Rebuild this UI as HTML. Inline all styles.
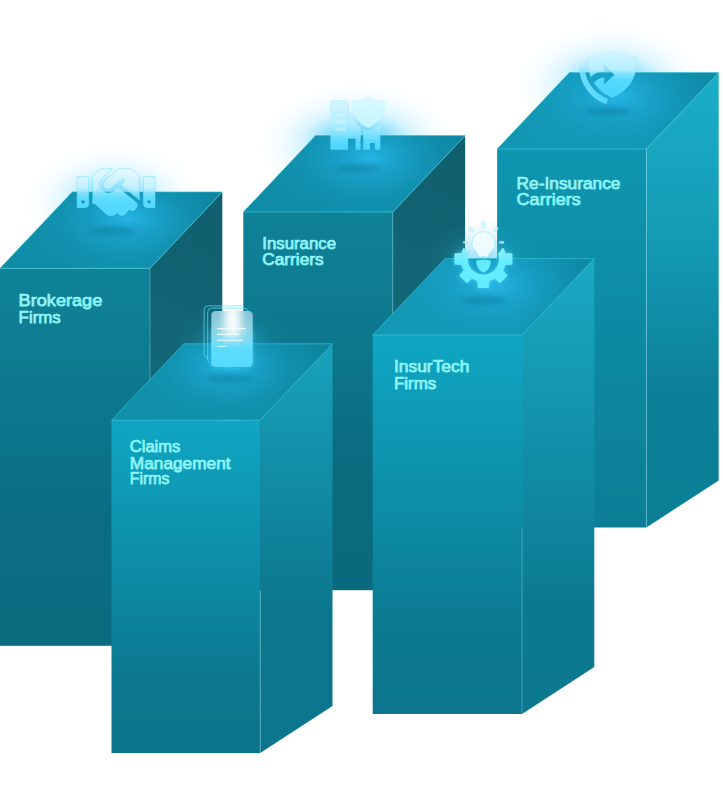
<!DOCTYPE html>
<html lang="en"><head><meta charset="utf-8"><title>Insurance segments</title>
<style>
html,body{margin:0;padding:0;background:#fff;}
body{width:723px;height:800px;overflow:hidden;}
svg{display:block;}
text{font-family:"Liberation Sans",sans-serif;font-weight:normal;fill:#8ff4f6;stroke:#8ff4f6;stroke-width:.75px;stroke-linejoin:round;}
</style></head><body>
<svg width="723" height="800" viewBox="0 0 723 800">

<defs>
<linearGradient id="fB" x1="0" y1="0" x2="0" y2="1"><stop offset="0" stop-color="#0f8399"/><stop offset=".68" stop-color="#0a6d82"/><stop offset="1" stop-color="#0a6b7f"/></linearGradient>
<linearGradient id="fI" x1="0" y1="0" x2="0" y2="1"><stop offset="0" stop-color="#0f8298"/><stop offset=".35" stop-color="#0d778c"/><stop offset=".68" stop-color="#0a6b7f"/><stop offset="1" stop-color="#0a697d"/></linearGradient>
<linearGradient id="fR" x1="0" y1="0" x2="0" y2="1"><stop offset="0" stop-color="#0f95b0"/><stop offset="1" stop-color="#0b7e95"/></linearGradient>
<linearGradient id="fC" x1="0" y1="0" x2="0" y2="1"><stop offset="0" stop-color="#0fa6c3"/><stop offset=".8" stop-color="#0b778e"/><stop offset="1" stop-color="#0b748b"/></linearGradient>
<linearGradient id="fT" x1="0" y1="0" x2="0" y2="1"><stop offset="0" stop-color="#0fa6c3"/><stop offset=".78" stop-color="#0b7a91"/><stop offset="1" stop-color="#0b768d"/></linearGradient>
<linearGradient id="sB" gradientUnits="userSpaceOnUse" x1="222" y1="195" x2="150" y2="385"><stop offset="0" stop-color="#0f5e6d"/><stop offset="1" stop-color="#136979"/></linearGradient>
<linearGradient id="sI" gradientUnits="userSpaceOnUse" x1="465" y1="140" x2="393" y2="330"><stop offset="0" stop-color="#0f5e6d"/><stop offset="1" stop-color="#136979"/></linearGradient>
<linearGradient id="sR" x1="0" y1="0" x2="0" y2="1"><stop offset="0" stop-color="#1baec9"/><stop offset=".35" stop-color="#149cb6"/><stop offset=".7" stop-color="#0c8098"/><stop offset="1" stop-color="#0b7f96"/></linearGradient>
<linearGradient id="sC" x1="0" y1="0" x2="0" y2="1"><stop offset="0" stop-color="#18a2bd"/><stop offset=".65" stop-color="#0b778e"/><stop offset="1" stop-color="#0b768d"/></linearGradient>
<linearGradient id="sT" x1="0" y1="0" x2="0" y2="1"><stop offset="0" stop-color="#1aa9c4"/><stop offset=".76" stop-color="#0b7a91"/><stop offset="1" stop-color="#0b788f"/></linearGradient>
<radialGradient id="topglow"><stop offset="0" stop-color="#25b4e4" stop-opacity="1"/><stop offset=".3" stop-color="#1fabd9" stop-opacity=".62"/><stop offset=".65" stop-color="#1ba3cd" stop-opacity=".22"/><stop offset="1" stop-color="#1aa2cc" stop-opacity="0"/></radialGradient>
<radialGradient id="airglow"><stop offset="0" stop-color="#4ccbfa" stop-opacity=".8"/><stop offset=".3" stop-color="#5fd3fc" stop-opacity=".6"/><stop offset=".55" stop-color="#7bdcfd" stop-opacity=".32"/><stop offset=".8" stop-color="#9be5ff" stop-opacity=".1"/><stop offset="1" stop-color="#bff0ff" stop-opacity="0"/></radialGradient>
<radialGradient id="airglow3"><stop offset="0" stop-color="#45c6f8" stop-opacity=".6"/><stop offset=".5" stop-color="#55cdfa" stop-opacity=".3"/><stop offset="1" stop-color="#6fd8fd" stop-opacity="0"/></radialGradient>
<radialGradient id="airglow2"><stop offset="0" stop-color="#3cc6f5" stop-opacity=".6"/><stop offset=".35" stop-color="#35bdea" stop-opacity=".28"/><stop offset=".7" stop-color="#2fb4e0" stop-opacity=".07"/><stop offset="1" stop-color="#2fb4e0" stop-opacity="0"/></radialGradient>
<filter id="blur3" x="-50%" y="-200%" width="200%" height="500%"><feGaussianBlur stdDeviation="4.5 2.8"/></filter>
<linearGradient id="ig" x1="0" y1="0" x2="0" y2="1"><stop offset="0" stop-color="#eafaff" stop-opacity=".75"/><stop offset=".45" stop-color="#bff0ff" stop-opacity=".85"/><stop offset=".7" stop-color="#55dbff"/><stop offset="1" stop-color="#4fd8ff"/></linearGradient>
</defs>

<defs>
<linearGradient id="igB" gradientUnits="userSpaceOnUse" x1="0" y1="64" x2="0" y2="450"><stop offset="0" stop-color="#eafaff" stop-opacity=".7"/><stop offset=".4" stop-color="#c4f1ff" stop-opacity=".85"/><stop offset=".62" stop-color="#5cdcff"/><stop offset="1" stop-color="#4fd8ff"/></linearGradient>
</defs><defs>
<linearGradient id="igI" gradientUnits="userSpaceOnUse" x1="0" y1="98" x2="0" y2="150"><stop offset="0" stop-color="#d4f5ff" stop-opacity=".9"/><stop offset=".5" stop-color="#b4eeff" stop-opacity=".93"/><stop offset=".7" stop-color="#7fe2ff" stop-opacity=".97"/><stop offset=".82" stop-color="#5cdaff"/><stop offset="1" stop-color="#4cd4fb"/></linearGradient>
<linearGradient id="igS" gradientUnits="userSpaceOnUse" x1="0" y1="96" x2="0" y2="128"><stop offset="0" stop-color="#dcf9ff" stop-opacity=".95"/><stop offset="1" stop-color="#c2f6ff" stop-opacity=".97"/></linearGradient>
<linearGradient id="igR" gradientUnits="userSpaceOnUse" x1="0" y1="50" x2="0" y2="98"><stop offset="0" stop-color="#d2f5ff" stop-opacity=".92"/><stop offset=".4" stop-color="#b9f0ff" stop-opacity=".95"/><stop offset=".52" stop-color="#74e0ff"/><stop offset=".62" stop-color="#55d9ff"/><stop offset="1" stop-color="#4ad2fa"/></linearGradient>
<linearGradient id="igR2" gradientUnits="userSpaceOnUse" x1="0" y1="64" x2="0" y2="102"><stop offset="0" stop-color="#c9f3ff" stop-opacity=".9"/><stop offset=".25" stop-color="#6edfff"/><stop offset="1" stop-color="#55d8fd"/></linearGradient>
<linearGradient id="igC" gradientUnits="userSpaceOnUse" x1="0" y1="311" x2="0" y2="367"><stop offset="0" stop-color="#84c2d3"/><stop offset=".3" stop-color="#8dd0e3"/><stop offset=".55" stop-color="#7bdcf6"/><stop offset=".66" stop-color="#5fdcfc"/><stop offset="1" stop-color="#54dafe"/></linearGradient>
<filter id="bloom" x="-30%" y="-30%" width="160%" height="160%"><feGaussianBlur stdDeviation="2.6"/></filter>
<filter id="blurC" x="-100%" y="-50%" width="300%" height="200%"><feGaussianBlur stdDeviation="4.5 6"/></filter>
<linearGradient id="igT" gradientUnits="userSpaceOnUse" x1="0" y1="240" x2="0" y2="262"><stop offset="0" stop-color="#b9f4ff" stop-opacity=".85"/><stop offset="1" stop-color="#66ecff"/></linearGradient>
</defs>
<ellipse cx="114.0" cy="203.0" rx="90" ry="58" fill="url(#airglow)" opacity="0.8"/><ellipse cx="116.0" cy="193.0" rx="52" ry="20" fill="url(#airglow3)" opacity="0.7"/>
<g>
<rect x="0.0" y="268.3" width="150.0" height="377.5" fill="url(#fB)"/>
<polygon points="150.0,268.3 222.3,191.9 222.3,598.8 150.0,645.8" fill="url(#sB)"/>
<linearGradient id="tgB" gradientUnits="userSpaceOnUse" x1="30.0" y1="268.3" x2="212.3" y2="191.9"><stop offset="0" stop-color="#0f8da8"/><stop offset=".55" stop-color="#0f8da8"/><stop offset="1" stop-color="#0d849d"/></linearGradient>
<polygon points="0.0,268.3 150.0,268.3 222.3,191.9 72.3,191.9" fill="url(#tgB)"/>
<clipPath id="ctB"><polygon points="0.0,268.3 150.0,268.3 222.3,191.9 72.3,191.9"/></clipPath>
<g clip-path="url(#ctB)"><ellipse cx="128.0" cy="219.0" rx="108.0" ry="62.6" fill="url(#topglow)"/></g>
<path d="M0.0 268.3 H150.0 L222.3 191.9" fill="none" stroke="#38c6dd" stroke-opacity=".75" stroke-width="1"/>
<path d="M150.0 268.3 V645.8" fill="none" stroke="#7fd6e6" stroke-opacity=".55" stroke-width=".8"/>
<path d="M0.0 268.3 L72.3 191.9 H222.3" fill="none" stroke="#38c6dd" stroke-opacity=".7" stroke-width=".9"/>
</g>
<ellipse cx="113.0" cy="230.8" rx="23" ry="4.4" fill="#0a6d8a" fill-opacity=".36" filter="url(#blur3)"/>
<g transform="translate(77.1,161) scale(0.1217)"><path d="M434.7 64h-85.9c-8 0-15.7 3-21.6 8.400l-98.300 90c-.1.100-.2.300-.3.400-16.600 15.600-16.300 40.500-2.100 56 12.700 13.900 39.400 17.600 56.100 2.700.1-.1.300-.1.400-.2l79.900-73.200c6.500-5.900 16.700-5.500 22.600 1 6 6.500 5.500 16.600-1 22.600l-26.100 23.900L504 313.800c2.900 2.400 5.500 5 7.900 7.700V128l-54.600-54.600c-5.900-6-14.100-9.400-22.600-9.400zM544 128.200v223.900c0 17.700 14.300 32 32 32h64V128.200h-96zm48 223.900c-8.800 0-16-7.200-16-16s7.200-16 16-16 16 7.200 16 16-7.200 16-16 16zM0 384h64c17.700 0 32-14.300 32-32V128.200H0V384zm48-63.900c8.800 0 16 7.200 16 16s-7.200 16-16 16-16-7.200-16-16c0-8.900 7.200-16 16-16zm435.900 18.600L334.600 217.500l-30 27.500c-29.700 27.100-75.200 24.500-101.700-4.400-26.900-29.400-24.800-74.900 4.400-101.700L289.100 64h-83.800c-8.500 0-16.600 3.400-22.600 9.400L128 128v223.900h18.300l90.500 81.900c27.400 22.300 67.700 18.100 90-9.300l.2-.2 17.900 15.500c15.900 13 39.400 10.500 52.300-5.400l31.400-38.600 5.400 4.400c13.700 11.100 33.900 9.100 45-4.700l9.500-11.700c11.200-13.800 9.100-33.900-4.600-45.100z" fill="url(#igB)" stroke="#62e0ff" stroke-width="4"/></g>
<ellipse cx="358.0" cy="146.0" rx="100" ry="62" fill="url(#airglow)" opacity="1"/><ellipse cx="358.0" cy="137.0" rx="56" ry="24" fill="url(#airglow3)" opacity="1"/>
<g>
<rect x="243.3" y="212.0" width="149.5" height="378.2" fill="url(#fI)"/>
<polygon points="392.8,212.0 465.1,135.6 465.1,543.2 392.8,590.2" fill="url(#sI)"/>
<linearGradient id="tgI" gradientUnits="userSpaceOnUse" x1="273.3" y1="212.0" x2="455.1" y2="135.6"><stop offset="0" stop-color="#0f8da8"/><stop offset=".55" stop-color="#0f8da8"/><stop offset="1" stop-color="#0d849d"/></linearGradient>
<polygon points="243.3,212.0 392.8,212.0 465.1,135.6 315.6,135.6" fill="url(#tgI)"/>
<clipPath id="ctI"><polygon points="243.3,212.0 392.8,212.0 465.1,135.6 315.6,135.6"/></clipPath>
<g clip-path="url(#ctI)"><ellipse cx="370.0" cy="158.0" rx="108.0" ry="62.6" fill="url(#topglow)"/></g>
<path d="M243.3 212.0 H392.8 L465.1 135.6" fill="none" stroke="#38c6dd" stroke-opacity=".75" stroke-width="1"/>
<path d="M392.8 212.0 V590.2" fill="none" stroke="#7fd6e6" stroke-opacity=".55" stroke-width=".8"/>
<path d="M243.3 212.0 L315.6 135.6 H465.1" fill="none" stroke="#38c6dd" stroke-opacity=".7" stroke-width=".9"/>
</g>
<ellipse cx="358.4" cy="168.5" rx="23" ry="4.4" fill="#0a6d8a" fill-opacity=".36" filter="url(#blur3)"/>

<mask id="mI" maskUnits="userSpaceOnUse" x="320" y="90" width="80" height="70">
 <rect x="330.4" y="100.3" width="17.6" height="49.5" rx="1.6" fill="#fff"/>
 <rect x="346" y="104" width="14.5" height="34.6" fill="#fff"/>
 <rect x="355.6" y="130" width="4.9" height="19.8" rx=".6" fill="#fff"/>
 <rect x="363.2" y="110" width="17.1" height="39.8" rx=".6" fill="#fff"/>
 <path d="M368.2 96.3C364 99.4 358 101.3 352 101.7C351.4 113.5 356 122.3 368.2 127.8C380.4 122.3 385 113.5 384.6 101.7C378.4 101.3 372.4 99.4 368.2 96.3Z" fill="#000" stroke="#000" stroke-width="6.4" stroke-linejoin="round"/>
 <rect x="370" y="143" width="4.9" height="8" fill="#000"/>
 <rect x="367.6" y="133.8" width="2.4" height="1.3" fill="#000" fill-opacity=".5"/><rect x="375.2" y="133.8" width="2.4" height="1.3" fill="#000" fill-opacity=".5"/>
</mask>
<g>
 <rect x="325" y="95" width="65" height="56" fill="url(#igI)" mask="url(#mI)"/>
 <rect x="330.4" y="100.3" width="17.6" height="30" rx="1.600" fill="none" stroke="#9be8ff" stroke-opacity=".5" stroke-width=".6" mask="url(#mI)"/>
 <g fill="#dff8ff" fill-opacity=".35" stroke="#a8ecff" stroke-opacity=".8" stroke-width=".6">
  <rect x="335" y="112.6" width="11.4" height="3.8"/><rect x="335" y="119.9" width="11.4" height="4.2"/><rect x="335" y="127.4" width="11.4" height="3.5"/>
 </g>
 <path d="M368.2 96.3C364 99.4 358 101.3 352 101.7C351.4 113.5 356 122.3 368.2 127.8C380.4 122.3 385 113.5 384.6 101.7C378.4 101.3 372.4 99.4 368.2 96.3Z" fill="url(#igS)" stroke="#b5f0ff" stroke-opacity=".7" stroke-width=".6"/>
</g>

<ellipse cx="611.0" cy="83.0" rx="96" ry="58" fill="url(#airglow)" opacity="0.8"/><ellipse cx="611.0" cy="74.0" rx="52" ry="20" fill="url(#airglow3)" opacity="0.7"/>
<g>
<rect x="497.1" y="149.0" width="149.3" height="378.5" fill="url(#fR)"/>
<polygon points="646.4,149.0 718.7,72.6 718.7,480.5 646.4,527.5" fill="url(#sR)"/>
<linearGradient id="tgR" gradientUnits="userSpaceOnUse" x1="527.1" y1="149.0" x2="708.7" y2="72.6"><stop offset="0" stop-color="#1197b4"/><stop offset=".55" stop-color="#1197b4"/><stop offset="1" stop-color="#0d89a4"/></linearGradient>
<polygon points="497.1,149.0 646.4,149.0 718.7,72.6 569.4,72.6" fill="url(#tgR)"/>
<clipPath id="ctR"><polygon points="497.1,149.0 646.4,149.0 718.7,72.6 569.4,72.6"/></clipPath>
<g clip-path="url(#ctR)"><ellipse cx="617.0" cy="97.0" rx="108.0" ry="62.6" fill="url(#topglow)"/></g>
<path d="M497.1 149.0 H646.4 L718.7 72.6" fill="none" stroke="#38c6dd" stroke-opacity=".75" stroke-width="1"/>
<path d="M646.4 149.0 V527.5" fill="none" stroke="#7fd6e6" stroke-opacity=".55" stroke-width=".8"/>
<path d="M497.1 149.0 L569.4 72.6 H718.7" fill="none" stroke="#38c6dd" stroke-opacity=".7" stroke-width=".9"/>
</g>
<ellipse cx="608.4" cy="111.6" rx="23" ry="4.4" fill="#0a6d8a" fill-opacity=".36" filter="url(#blur3)"/>

<mask id="mR" maskUnits="userSpaceOnUse" x="570" y="40" width="80" height="70">
 <path d="M612.3 49.9C606 54 597 56.6 588 57.1C587.2 76 594 89.5 612.3 97.6C630.6 89.5 637.6 76 637 56.7C628 56.4 618.5 54 612.3 49.9Z" fill="#fff"/>
 <path d="M581.9 66.6A37.6 37.6 0 0 0 607.1 101.5" fill="none" stroke="#000" stroke-width="11.5"/>
 <path d="M604.2 64.6L614.3 74.7L604.2 84.4V77.6C598.5 77.8 595.5 80.5 593.2 85L589 80C592 74.8 597 71.8 604.2 71.6Z" fill="#000"/>
</mask>
<g>
 <rect x="575" y="45" width="70" height="60" fill="url(#igR)" mask="url(#mR)"/>
 <path d="M612.3 49.9C606 54 597 56.6 588 57.1C587.2 76 594 89.5 612.3 97.6C630.6 89.5 637.6 76 637 56.7C628 56.4 618.5 54 612.3 49.9Z" fill="none" stroke="#8fe6ff" stroke-opacity=".55" stroke-width=".6" mask="url(#mR)"/>
 <path d="M581.9 66.6A37.6 37.6 0 0 0 607.1 101.5" fill="none" stroke="url(#igR2)" stroke-width="5.6"/>
</g>

<ellipse cx="232.0" cy="346.0" rx="60" ry="44" fill="url(#airglow2)" opacity="1"/>
<g>
<rect x="111.5" y="420.2" width="148.7" height="332.8" fill="url(#fC)"/>
<polygon points="260.2,420.2 332.5,343.8 332.5,706.0 260.2,753.0" fill="url(#sC)"/>
<linearGradient id="tgC" gradientUnits="userSpaceOnUse" x1="141.5" y1="420.2" x2="322.5" y2="343.8"><stop offset="0" stop-color="#0f8fa9"/><stop offset=".55" stop-color="#0f8fa9"/><stop offset="1" stop-color="#0d859e"/></linearGradient>
<polygon points="111.5,420.2 260.2,420.2 332.5,343.8 183.8,343.8" fill="url(#tgC)"/>
<clipPath id="ctC"><polygon points="111.5,420.2 260.2,420.2 332.5,343.8 183.8,343.8"/></clipPath>
<g clip-path="url(#ctC)"><ellipse cx="229.0" cy="367.0" rx="96.0" ry="55.7" fill="url(#topglow)"/></g>
<path d="M111.5 420.2 H260.2 L332.5 343.8" fill="none" stroke="#38c6dd" stroke-opacity=".75" stroke-width="1"/>
<path d="M260.2 590.5 V753.0" fill="none" stroke="#7fd6e6" stroke-opacity=".55" stroke-width=".8"/>
<path d="M111.5 420.2 L183.8 343.8 H332.5" fill="none" stroke="#38c6dd" stroke-opacity=".7" stroke-width=".9"/>
</g>
<ellipse cx="228.4" cy="378.5" rx="23" ry="4.4" fill="#0a6d8a" fill-opacity=".36" filter="url(#blur3)"/>

<g>
 <g fill="none" stroke="#62e0ff" stroke-width=".75" stroke-opacity=".9">
  <path d="M244.4 308.2Q242.6 305.900 240.200 305.900H208.1a4 4 0 0 0 -4 4V353.6q0 2.2 1.6 3.400l2.2 1.800"/>
  <path d="M248.6 311.2Q246.8 308.100 244 308.100H211.7a4 4 0 0 0 -4 4V359q0 2.2 1.6 3.400L213.4 366"/>
 </g>
 <rect x="211.3" y="330" width="41.4" height="37" rx="4.2" fill="#4fd8ff" fill-opacity=".6" filter="url(#bloom)"/>
 <clipPath id="cdoc"><rect x="211.3" y="311" width="41.400" height="56.100" rx="4.200"/></clipPath>
 <rect x="211.3" y="311" width="41.400" height="56.100" rx="4.200" fill="url(#igC)"/>
 <g clip-path="url(#cdoc)"><rect x="224" y="303" width="17" height="34" fill="#fff" fill-opacity=".95" filter="url(#blurC)"/></g>
 <g stroke="#f1ffff" stroke-width="1.100" stroke-linecap="round">
  <path d="M217.5 328.6H245.6"/><path d="M217.5 334.4H238" stroke-opacity=".95"/><path d="M217.5 340.3H242.5" stroke-opacity=".95"/><path d="M217.5 346.4H226.6" stroke="#b8f6ff"/>
 </g>
</g>

<ellipse cx="484.0" cy="261.0" rx="60" ry="44" fill="url(#airglow2)" opacity="1"/>
<g>
<rect x="372.7" y="335.0" width="149.3" height="379.0" fill="url(#fT)"/>
<polygon points="522.0,335.0 594.3,258.6 594.3,667.0 522.0,714.0" fill="url(#sT)"/>
<linearGradient id="tgT" gradientUnits="userSpaceOnUse" x1="402.7" y1="335.0" x2="584.3" y2="258.6"><stop offset="0" stop-color="#1297b4"/><stop offset=".55" stop-color="#1297b4"/><stop offset="1" stop-color="#0d88a2"/></linearGradient>
<polygon points="372.7,335.0 522.0,335.0 594.3,258.6 445.0,258.6" fill="url(#tgT)"/>
<clipPath id="ctT"><polygon points="372.7,335.0 522.0,335.0 594.3,258.6 445.0,258.6"/></clipPath>
<g clip-path="url(#ctT)"><ellipse cx="493.0" cy="285.0" rx="108.0" ry="62.6" fill="url(#topglow)"/></g>
<path d="M372.7 335.0 H522.0 L594.3 258.6" fill="none" stroke="#38c6dd" stroke-opacity=".75" stroke-width="1"/>
<path d="M522.0 527.5 V714.0" fill="none" stroke="#7fd6e6" stroke-opacity=".55" stroke-width=".8"/>
<path d="M372.7 335.0 L445.0 258.6 H594.3" fill="none" stroke="#38c6dd" stroke-opacity=".7" stroke-width=".9"/>
</g>
<ellipse cx="483.4" cy="300.0" rx="23" ry="4.4" fill="#0a6d8a" fill-opacity=".36" filter="url(#blur3)"/>

<g>
 <path d="M502.99 248.14A22.40 22.40 0 0 1 505.09 253.39L511.94 253.86L511.94 264.14L505.09 264.61A22.40 22.40 0 0 1 502.70 270.37L507.21 275.55L499.95 282.81L494.77 278.30A22.40 22.40 0 0 1 489.01 280.69L488.54 287.54L478.26 287.54L477.79 280.69A22.40 22.40 0 0 1 472.03 278.30L466.85 282.81L459.59 275.55L464.10 270.37A22.40 22.40 0 0 1 461.71 264.61L454.86 264.14L454.86 253.86L461.71 253.39A22.40 22.40 0 0 1 463.81 248.14L468.27 253.79A16.00 16.00 0 1 0 498.53 253.79Z" fill="#4fdcff" fill-opacity=".7" filter="url(#bloom)"/>
 <path d="M502.99 248.14A22.40 22.40 0 0 1 505.09 253.39L511.94 253.86L511.94 264.14L505.09 264.61A22.40 22.40 0 0 1 502.70 270.37L507.21 275.55L499.95 282.81L494.77 278.30A22.40 22.40 0 0 1 489.01 280.69L488.54 287.54L478.26 287.54L477.79 280.69A22.40 22.40 0 0 1 472.03 278.30L466.85 282.81L459.59 275.55L464.10 270.37A22.40 22.40 0 0 1 461.71 264.61L454.86 264.14L454.86 253.86L461.71 253.39A22.40 22.40 0 0 1 463.81 248.14L468.27 253.79A16.00 16.00 0 1 0 498.53 253.79Z" fill="url(#igT)" stroke="url(#igT)" stroke-width=".9" stroke-linejoin="round"/>
 <path d="M476.3 260.6L483.5 259.6L490.8 260.6C491 266.5 488.6 270.6 483.5 272.8C478.4 270.600 476.100 266.500 476.300 260.600Z" fill="#62eaff"/>
 <path d="M483.4 231.7a11.3 11.3 0 0 1 7.2 20c-1.3 1.2 -1.9 2.6 -2.1 4.4l-2.6 1.2l-2.5 -1.3l-2.5 1.3l-2.6 -1.2c-.2 -1.8 -.8 -3.2 -2.1 -4.400a11.3 11.3 0 0 1 7.2 -20z" fill="#f2fdff" fill-opacity=".9" stroke="#9beaff" stroke-width=".7"/>
 <g fill="#dffaff" fill-opacity=".7" stroke="#7fe6ff" stroke-width=".6"><rect x="480.60" y="223.55" width="5.60" height="2.30" rx="1.15" transform="rotate(90 483.40 224.70)"/><rect x="468.60" y="228.60" width="4.60" height="2.20" rx="1.10" transform="rotate(52 470.90 229.70)"/><rect x="494.00" y="228.30" width="4.60" height="2.20" rx="1.10" transform="rotate(-52 496.30 229.40)"/><rect x="463.20" y="241.30" width="4.80" height="2.20" rx="1.10" transform="rotate(0 465.60 242.40)"/><rect x="499.30" y="241.30" width="4.80" height="2.20" rx="1.10" transform="rotate(0 501.70 242.40)"/></g>
</g>

<text x="18.6" y="305.7" textLength="83.7" lengthAdjust="spacingAndGlyphs" font-size="16">Brokerage</text>
<text x="18.6" y="322.7" textLength="42.2" lengthAdjust="spacingAndGlyphs" font-size="16">Firms</text>
<text x="262.3" y="248.6" textLength="73.7" lengthAdjust="spacingAndGlyphs" font-size="16">Insurance</text>
<text x="262.3" y="265.0" textLength="61.3" lengthAdjust="spacingAndGlyphs" font-size="16">Carriers</text>
<text x="516.6" y="188.6" textLength="103.8" lengthAdjust="spacingAndGlyphs" font-size="16">Re-Insurance</text>
<text x="516.6" y="205.3" textLength="64.1" lengthAdjust="spacingAndGlyphs" font-size="16">Carriers</text>
<text x="393.9" y="371.6" textLength="75.6" lengthAdjust="spacingAndGlyphs" font-size="16">InsurTech</text>
<text x="393.9" y="388.5" textLength="42.4" lengthAdjust="spacingAndGlyphs" font-size="16">Firms</text>
<text x="129.8" y="452.4" textLength="50.5" lengthAdjust="spacingAndGlyphs" font-size="15.6">Claims</text>
<text x="129.8" y="468.5" textLength="100.8" lengthAdjust="spacingAndGlyphs" font-size="15.6">Management</text>
<text x="129.8" y="484.4" textLength="39.7" lengthAdjust="spacingAndGlyphs" font-size="15.6">Firms</text>
</svg>
</body></html>
